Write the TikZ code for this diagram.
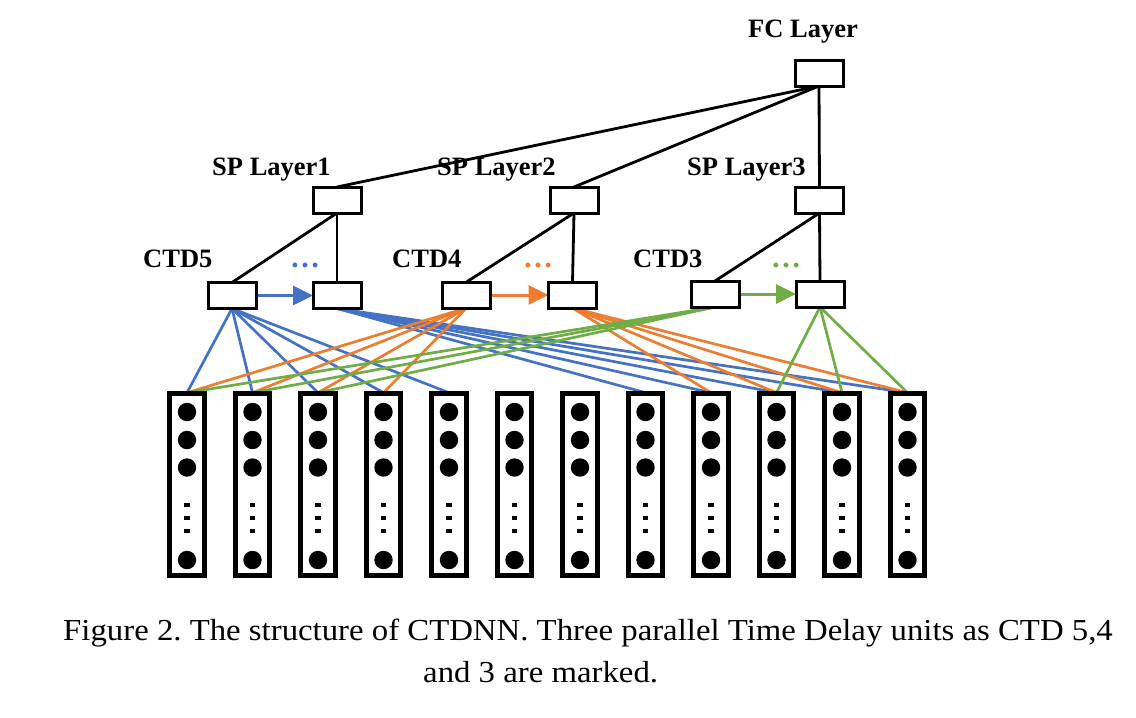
\documentclass[tikz,border=0pt]{standalone}
\usepackage{fontspec}
\setmainfont{Liberation Serif}
\usetikzlibrary{arrows.meta}
\definecolor{cblue}{HTML}{4472C4}
\definecolor{corange}{HTML}{ED7D31}
\definecolor{cgreen}{HTML}{70AD47}
\frenchspacing
\tikzset{
  unitbox/.style={draw=black, line width=3pt, fill=white, minimum width=45pt, minimum height=23pt, inner sep=0pt},
  colbox/.style={draw=black, line width=3.4pt, fill=white, minimum width=32.6pt, minimum height=180.6pt, inner sep=0pt},
  lbl/.style={font=\fontsize{26.5}{30}\selectfont\bfseries, inner sep=0pt, anchor=base west},
  dotlbl/.style={font=\fontsize{30}{30}\selectfont\bfseries, inner sep=0pt, anchor=base},
  blk/.style={draw=black, line width=2.8pt},
  conn/.style={line width=2.7pt},
  delay/.style={line width=3pt, -{Triangle[length=20pt,width=19pt]}},
  captxt/.style={inner sep=0pt, anchor=base west, font=\fontsize{30.5}{36}\selectfont}
}
\begin{document}
\begin{tikzpicture}[x=1pt,y=-1pt]
\useasboundingbox (0,0) rectangle (1136,718);
\fill[white] (0,0) rectangle (1136,718);

% columns
\foreach \i in {1,...,12} {
  \pgfmathsetmacro{\cx}{187+65.5*(\i-1)}
  \node[colbox] (c\i) at (\cx,484.7) {};
}

% boxes
\node[unitbox] (fc) at (819,73) {};
\node[unitbox] (sp1) at (337,200) {};
\node[unitbox] (sp2) at (574,200) {};
\node[unitbox] (sp3) at (819.5,200) {};
\node[unitbox] (a5) at (232,295.5) {};
\node[unitbox] (b5) at (337,295.5) {};
\node[unitbox] (a4) at (466.5,295) {};
\node[unitbox] (b4) at (572.5,295) {};
\node[unitbox] (a3) at (715,294) {};
\node[unitbox] (b3) at (820,294) {};

% labels
\node[lbl] (lfc) at (748,37) {FC Layer};
\node[lbl] (lsp1) at (212,175) {SP Layer1};
\node[lbl] (lsp2) at (437,175) {SP Layer2};
\node[lbl] (lsp3) at (687,175) {SP Layer3};
\node[lbl] (lc5) at (143,267) {CTD5};
\node[lbl] (lc4) at (392,267) {CTD4};
\node[lbl] (lc3) at (633,267) {CTD3};
\node[dotlbl, text=cblue] (d5) at (305,267) {…};
\node[dotlbl, text=corange] (d4) at (538,267) {…};
\node[dotlbl, text=cgreen] (d3) at (786,267) {…};

% black tree lines
\draw[blk] (fc.south) -- (sp1.north);
\draw[blk] (fc.south) -- (sp2.north);
\draw[blk] (fc.south) -- (sp3.north);
\draw[blk] (sp1.south) -- (a5.north);
\draw[blk] (sp1.south) -- (b5.north);
\draw[blk] (sp2.south) -- (a4.north);
\draw[blk] (sp2.south) -- (b4.north);
\draw[blk] (sp3.south) -- (a3.north);
\draw[blk] (sp3.south) -- (b3.north);

% colored connectors
\foreach \i in {1,...,5} \draw[conn, cblue] (a5.south) -- (c\i.north);
\foreach \i in {8,...,12} \draw[conn, cblue] (b5.south) -- (c\i.north);
\foreach \i in {1,...,4} \draw[conn, corange] (a4.south) -- (c\i.north);
\foreach \i in {9,...,12} \draw[conn, corange] (b4.south) -- (c\i.north);
\foreach \i in {1,...,3} \draw[conn, cgreen] (a3.south) -- (c\i.north);
\foreach \i in {10,...,12} \draw[conn, cgreen] (b3.south) -- (c\i.north);

% delay arrows
\draw[delay, cblue] (a5.east) -- (b5.west);
\draw[delay, corange] (a4.east) -- (b4.west);
\draw[delay, cgreen] (a3.east) -- (b3.west);

% redraw boxes on top
\foreach \n in {fc,sp1,sp2,sp3,a5,b5,a4,b4,a3,b3} {
  \draw[line width=3pt, fill=white] (\n.south west) rectangle (\n.north east);
}
% column borders and neurons on top
\foreach \i in {1,...,12} {
  \draw[line width=3.4pt] (c\i.south west) rectangle (c\i.north east);
  \pgfmathsetmacro{\cx}{187+65.5*(\i-1)}
  \foreach \yy in {412,440,467.5,560} \fill (\cx,\yy) circle (9.2);
  \foreach \yy in {505,518,531} \fill (\cx-2.6,\yy-2.3) rectangle (\cx+2.6,\yy+2.3);
}

% caption
\node[captxt] (cap1) at (63,640) {\scalebox{1.075}[1]{Figure 2. The structure of CTDNN. Three parallel Time Delay units as CTD 5,4}};
\node[captxt] (cap2) at (423,682) {\scalebox{1.075}[1]{and 3 are marked.}};
\end{tikzpicture}
\end{document}
